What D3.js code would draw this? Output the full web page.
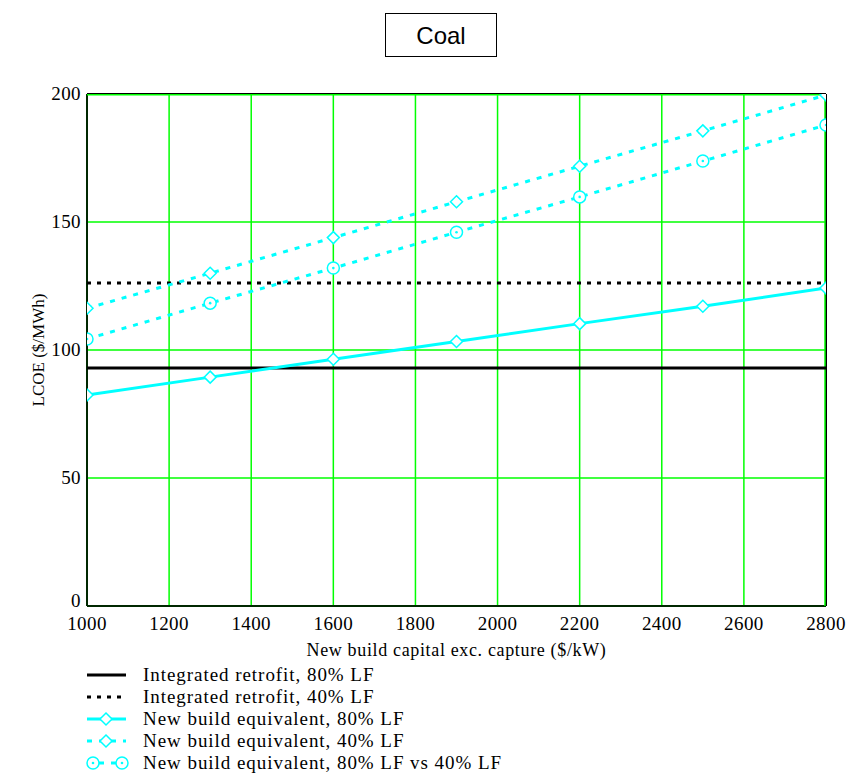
<html>
<head>
<meta charset="UTF-8" />
<style>
body { margin: 0; background: #fff; }
</style>
</head>
<body>
<script src="https://d3js.org/d3.v7.min.js" charset="utf-8"></script>
<script>
var width = 847;
var height = 784;

// data
var capital = [1000, 1300, 1600, 1900, 2200, 2500, 2800];
var retrofit80 = 93.0;
var retrofit40 = 126.2;
var newBuild80 = [82.4, 89.4, 96.4, 103.3, 110.3, 117.1, 124.2];
var newBuild40 = [116.3, 130.0, 143.9, 157.9, 171.8, 185.6, 199.6];
var newBuildVs = [104.3, 118.3, 132.0, 146.0, 159.8, 173.8, 187.9];
var xTicks = [1000, 1200, 1400, 1600, 1800, 2000, 2200, 2400, 2600, 2800];
var yTicks = [0, 50, 100, 150, 200];
var legendLabels = [
	"Integrated retrofit, 80% LF",
	"Integrated retrofit, 40% LF",
	"New build equivalent, 80% LF",
	"New build equivalent, 40% LF",
	"New build equivalent, 80% LF vs 40% LF"
];

var cyan = "#00ffff";
var grid = "#00ff00";
var serif = "'Liberation Serif', 'DejaVu Serif', serif";

var margin = {left: 87, right: 21, top: 94, bottom: 178};
var x0 = margin.left, x1 = width - margin.right;
var y0 = height - margin.bottom, y1 = margin.top;

var svg = d3.select("body")
			.append("svg")
			.attr("width", width)
			.attr("height", height)
			.attr("font-family", serif);

var x = d3.scaleLinear().domain([1000, 2800]).range([x0, x1]);
var y = d3.scaleLinear().domain([0, 200]).range([y0, y1]);

// title box
svg.append("rect")
   .attr("x", 385.5).attr("y", 13.5)
   .attr("width", 111).attr("height", 43)
   .attr("fill", "none").attr("stroke", "#000").attr("stroke-width", 1);
svg.append("text")
   .attr("x", 441).attr("y", 44)
   .attr("text-anchor", "middle")
   .attr("font-family", "'Liberation Sans', Arial, sans-serif")
   .attr("font-size", 24)
   .text("Coal");

svg.append("clipPath").attr("id", "plot")
   .append("rect").attr("x", x0).attr("y", y1).attr("width", x1 - x0).attr("height", y0 - y1);

// grid
var g = svg.append("g");
g.selectAll("line.vx")
 .data(xTicks.slice(1))
 .enter().append("line")
 .attr("x1", d => x(d)).attr("x2", d => x(d))
 .attr("y1", y1).attr("y2", y0)
 .attr("stroke", grid).attr("stroke-width", 1.5);
g.selectAll("line.hy")
 .data(yTicks.slice(1))
 .enter().append("line")
 .attr("x1", x0).attr("x2", x1)
 .attr("y1", d => y(d)).attr("y2", d => y(d))
 .attr("stroke", grid).attr("stroke-width", 1.5);

// frame
svg.append("line").attr("x1", x0).attr("x2", x0).attr("y1", y1).attr("y2", y0)
   .attr("stroke", "#002800").attr("stroke-width", 2);
svg.append("line").attr("x1", x0).attr("x2", x1).attr("y1", y0).attr("y2", y0)
   .attr("stroke", "#002800").attr("stroke-width", 2);
svg.append("line").attr("x1", x1).attr("x2", x1).attr("y1", y1).attr("y2", y0)
   .attr("stroke", "#000").attr("stroke-width", 2);
svg.append("line").attr("x1", x0).attr("x2", x1).attr("y1", y1 - 0.5).attr("y2", y1 - 0.5)
   .attr("stroke", "#000").attr("stroke-width", 1);
svg.append("line").attr("x1", x0).attr("x2", x1).attr("y1", y1 + 0.8).attr("y2", y1 + 0.8)
   .attr("stroke", grid).attr("stroke-width", 1.5);
svg.append("line").attr("x1", x1 - 1).attr("x2", x1 - 1).attr("y1", y1).attr("y2", y0)
   .attr("stroke", grid).attr("stroke-width", 1.5);

// tick labels
svg.selectAll("text.xt")
   .data(xTicks)
   .enter().append("text")
   .attr("x", d => x(d)).attr("y", y0 + 24)
   .attr("text-anchor", "middle")
   .attr("font-size", 19)
   .attr("letter-spacing", 0.4)
   .text(d => d);
svg.selectAll("text.yt")
   .data(yTicks)
   .enter().append("text")
   .attr("x", x0 - 6).attr("y", d => d === 0 ? y(d) + 1 : y(d) + 6)
   .attr("text-anchor", "end")
   .attr("font-size", 19)
   .attr("letter-spacing", 0.4)
   .text(d => d);

svg.append("text")
   .attr("x", (x0 + x1) / 2).attr("y", y0 + 50)
   .attr("text-anchor", "middle")
   .attr("font-size", 18)
   .attr("letter-spacing", 0.65)
   .text("New build capital exc. capture ($/kW)");
svg.append("text")
   .attr("transform", "translate(44," + ((y0 + y1) / 2) + ") rotate(-90)")
   .attr("text-anchor", "middle")
   .attr("font-size", 17)
   .text("LCOE ($/MWh)");

// series
var plot = svg.append("g").attr("clip-path", "url(#plot)");
var line = d3.line().x((d, i) => x(capital[i])).y(d => y(d));

plot.append("line")
	.attr("x1", x0).attr("x2", x1)
	.attr("y1", y(retrofit80)).attr("y2", y(retrofit80))
	.attr("stroke", "#000").attr("stroke-width", 3);
plot.append("line")
	.attr("x1", x0).attr("x2", x1)
	.attr("y1", y(retrofit40)).attr("y2", y(retrofit40))
	.attr("stroke", "#000").attr("stroke-width", 3)
	.attr("stroke-dasharray", "4,6");

plot.append("path").datum(newBuild80).attr("d", line)
	.attr("fill", "none").attr("stroke", cyan).attr("stroke-width", 3);
plot.append("path").datum(newBuild40).attr("d", line)
	.attr("fill", "none").attr("stroke", cyan).attr("stroke-width", 3)
	.attr("stroke-dasharray", "5,7");
plot.append("path").datum(newBuildVs).attr("d", line)
	.attr("fill", "none").attr("stroke", cyan).attr("stroke-width", 3)
	.attr("stroke-dasharray", "5,7");

var diamond = "M0,-6L6,0L0,6L-6,0Z";
function diamonds(sel, data) {
	sel.selectAll(null)
	   .data(data).enter().append("path")
	   .attr("transform", (d, i) => "translate(" + x(capital[i]) + "," + y(d) + ")")
	   .attr("d", diamond)
	   .attr("fill", "#fff").attr("stroke", cyan).attr("stroke-width", 1.5);
}
function circles(sel, data) {
	var c = sel.selectAll(null)
	   .data(data).enter().append("g")
	   .attr("transform", (d, i) => "translate(" + x(capital[i]) + "," + y(d) + ")");
	c.append("circle").attr("r", 6)
	 .attr("fill", "#fff").attr("stroke", cyan).attr("stroke-width", 1.5);
	c.append("circle").attr("r", 1.3).attr("fill", cyan);
}
diamonds(plot, newBuild80);
diamonds(plot, newBuild40);
circles(plot, newBuildVs);

// legend
var leg = svg.append("g");
var rowY = d => 675 + d * 22;
legendLabels.forEach(function(label, i) {
	var yy = rowY(i);
	var row = leg.append("g");
	if (i < 2) {
		row.append("line").attr("x1", 87).attr("x2", 126).attr("y1", yy).attr("y2", yy)
		   .attr("stroke", "#000").attr("stroke-width", 3)
		   .attr("stroke-dasharray", i === 1 ? "4,6" : null);
	} else if (i < 4) {
		row.append("line").attr("x1", 87).attr("x2", 126).attr("y1", yy).attr("y2", yy)
		   .attr("stroke", cyan).attr("stroke-width", 3)
		   .attr("stroke-dasharray", i === 3 ? "5,7" : null);
		row.append("path").attr("transform", "translate(106," + yy + ")")
		   .attr("d", diamond)
		   .attr("fill", "#fff").attr("stroke", cyan).attr("stroke-width", 1.5);
	} else {
		row.append("line").attr("x1", 87).attr("x2", 126).attr("y1", yy).attr("y2", yy)
		   .attr("stroke", cyan).attr("stroke-width", 3)
		   .attr("stroke-dasharray", "5,7");
		[93, 122].forEach(function(cx) {
			row.append("circle").attr("cx", cx).attr("cy", yy).attr("r", 6)
			   .attr("fill", "#fff").attr("stroke", cyan).attr("stroke-width", 1.5);
			row.append("circle").attr("cx", cx).attr("cy", yy).attr("r", 1.3).attr("fill", cyan);
		});
	}
	row.append("text").attr("x", 143).attr("y", yy + 6)
	   .attr("font-size", 19)
	   .attr("letter-spacing", 0.95)
	   .text(label);
});
</script>
</body>
</html>
